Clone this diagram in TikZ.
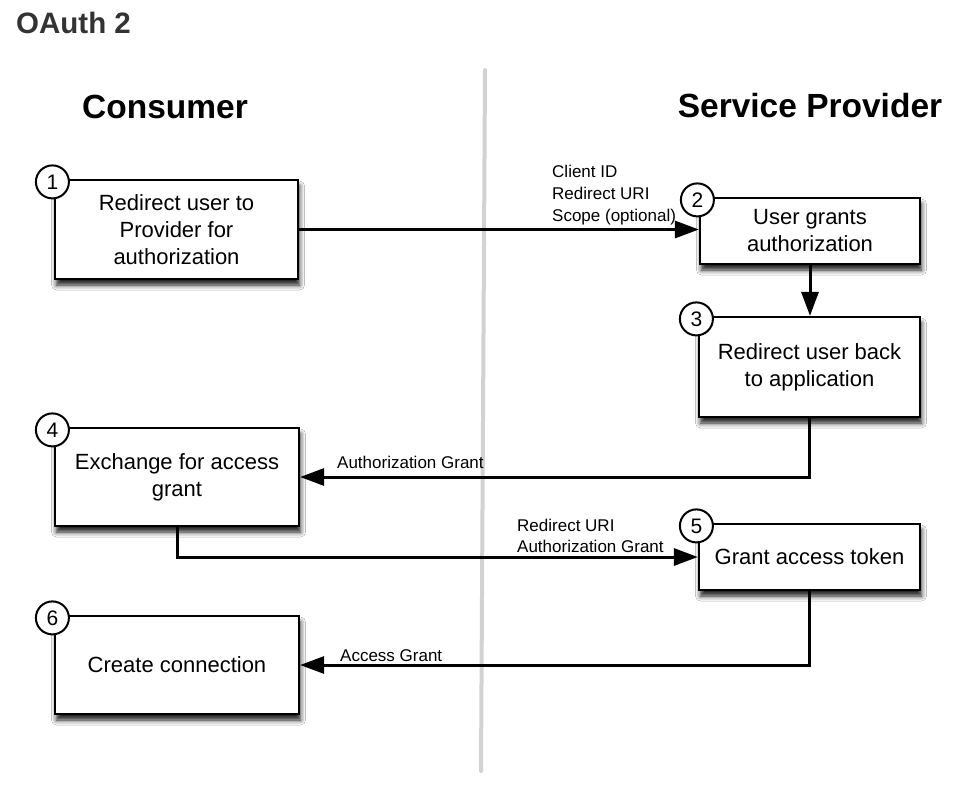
\documentclass[tikz,border=0pt]{standalone}
\usepackage{fontspec}
\setmainfont{Liberation Sans}
\usetikzlibrary{arrows.meta,shadows.blur,calc}
\definecolor{titlegrey}{HTML}{333333}
\definecolor{divider}{HTML}{D2D2D2}
\tikzset{
  stepbox/.style={draw=black, line width=2.2pt, fill=white, rectangle, align=center,
    inner sep=0pt, font=\fontsize{22}{27}\selectfont,
    blur shadow={shadow xshift=1.5pt, shadow yshift=-6pt, shadow blur radius=5pt, shadow opacity=90}},
  numcircle/.style={draw=black, line width=2pt, fill=white, circle, minimum size=33pt,
    inner sep=0pt, font=\fontsize{21}{21}\selectfont},
  flow/.style={line width=3pt, -{Triangle[length=24pt,width=17pt]}},
  lbl/.style={font=\fontsize{17}{22}\selectfont, inner sep=0pt, align=left},
  heading/.style={font=\fontsize{33.5}{36}\selectfont\bfseries, inner sep=0pt},
}
\begin{document}
\begin{tikzpicture}[x=1pt,y=-1pt]
\useasboundingbox (0,0) rectangle (966,788);
\fill[white] (0,0) rectangle (966,788);

\node[anchor=base west, inner sep=0pt, text=titlegrey, font=\fontsize{29.5}{31}\selectfont\bfseries] (title) at (16,33) {OAuth 2};

\coordinate (divtop) at (485,70);
\coordinate (divbot) at (481,771);
\draw[divider, line width=4pt, line cap=round] (divtop) -- (divbot);

\node[heading, anchor=base] (hcons) at (165,118) {Consumer};
\node[heading, anchor=base] (hprov) at (810,117) {Service Provider};

\node[stepbox, minimum width=243pt, minimum height=99pt] (b1) at (176.5,229.5) {Redirect user to\\Provider for\\authorization};
\node[stepbox, minimum width=220pt, minimum height=66pt] (b2) at (810,231) {User grants\\authorization};
\node[stepbox, minimum width=221pt, minimum height=100pt] (b3) at (809.5,367) {Redirect user back\\to application};
\node[stepbox, minimum width=244pt, minimum height=98pt] (b4) at (177,477) {Exchange for access\\grant};
\node[stepbox, minimum width=221pt, minimum height=66pt] (b5) at (809.5,557) {Grant access token};
\node[stepbox, minimum width=244pt, minimum height=98pt] (b6) at (177,665) {Create connection};

\foreach \b/\n in {b1/1,b2/2,b3/3,b4/4,b5/5,b6/6}{
  \node[numcircle] (c\n) at ($(\b.north west)+(-1.5,3)$) {\n};
}

\draw[flow] (b1.east) -- (b1.east -| b2.west);
\draw[flow] (b2.south) -- (b2.south |- b3.north);
\draw[flow] (b3.south) |- (b4.east);
\draw[flow] (b4.south) |- (b5.west);
\draw[flow] (b5.south) |- (b6.east);

\node[lbl, anchor=base west] (l1a) at (552,177) {Client ID};
\node[lbl, anchor=base west] (l1b) at (552,199) {Redirect URI};
\node[lbl, anchor=base west] (l1c) at (552,221) {Scope (optional)};
\node[lbl, anchor=base west] (l3) at (337,468) {Authorization Grant};
\node[lbl, anchor=base west] (l4a) at (517,531) {Redirect URI};
\node[lbl, anchor=base west] (l4b) at (517,552) {Authorization Grant};
\node[lbl, anchor=base west] (l5) at (340,661) {Access Grant};
\end{tikzpicture}
\end{document}
